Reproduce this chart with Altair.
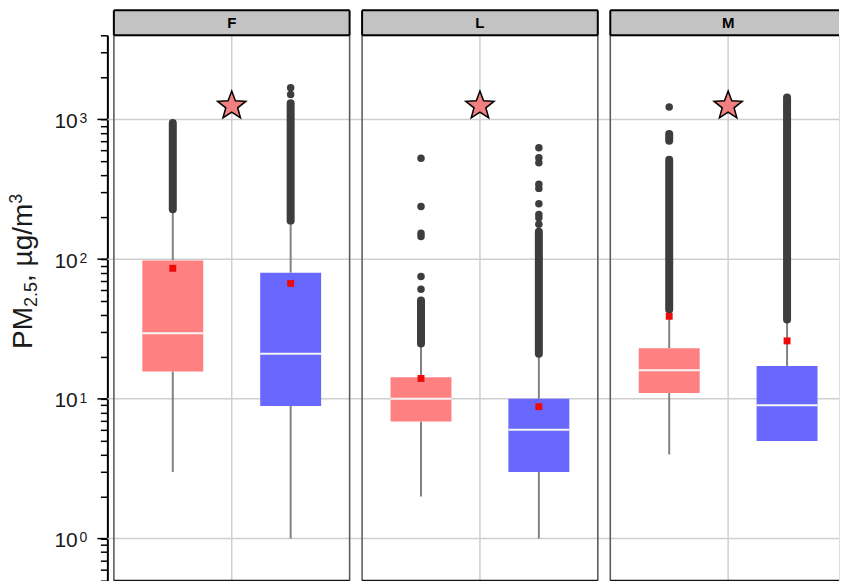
import altair as alt
import pandas as pd

# ---- data -------------------------------------------------------------
panels = ["F", "L", "M"]
series = ["S1", "S2"]

# box summaries, one entry per (panel, series)
box_panel = ["F", "F", "L", "L", "M", "M"]
box_series = ["S1", "S2", "S1", "S2", "S1", "S2"]
q1 = [15.7, 8.9, 6.9, 3.0, 11.0, 5.0]
median = [29.5, 21.0, 10.0, 6.0, 16.0, 9.0]
q3 = [98.0, 80.0, 14.3, 10.0, 23.0, 17.2]
mean = [86.0, 67.0, 14.0, 8.8, 39.0, 26.0]
whisker_lo = [3.0, 1.0, 2.0, 1.0, 4.0, 5.0]
whisker_hi = [214.0, 176.0, 24.0, 20.0, 41.0, 35.0]

# contiguous runs of overlapping outliers (lowest and highest point of each run)
run_panel = ["F", "F", "L", "L", "M", "M", "M"]
run_series = ["S1", "S2", "S1", "S2", "S1", "S1", "S2"]
run_lo = [228, 188, 24.9, 21, 43.6, 705, 37]
run_hi = [942, 1306, 50.6, 157, 515, 785, 1433]

# isolated outliers
out_panel = ["F", "F",
             "L", "L", "L", "L", "L", "L",
             "L", "L", "L", "L", "L", "L", "L", "L", "L",
             "M"]
out_series = ["S2", "S2",
              "S1", "S1", "S1", "S1", "S1", "S1",
              "S2", "S2", "S2", "S2", "S2", "S2", "S2", "S2", "S2",
              "S1"]
out_value = [1510, 1683,
             61, 75, 145, 153, 238, 527,
             178, 198, 209, 249, 321, 343, 490, 532, 627,
             1225]

# significance markers
star_panel = ["F", "L", "M"]
star_value = [1250, 1250, 1250]

# y axis
grid_values = [1, 10, 100, 1000]
label_base = ["10", "10", "10", "10"]
label_exp = ["0", "1", "2", "3"]
tick_values = [0.5, 0.6, 0.7, 0.8, 0.9,
               1, 2, 3, 4, 5, 6, 7, 8, 9,
               10, 20, 30, 40, 50, 60, 70, 80, 90,
               100, 200, 300, 400, 500, 600, 700, 800, 900,
               1000, 2000, 3000, 4000]

box_df = pd.DataFrame({"panel": box_panel, "series": box_series, "q1": q1,
                       "median": median, "q3": q3, "mean": mean,
                       "wlo": whisker_lo, "whi": whisker_hi})
run_df = pd.DataFrame({"panel": run_panel, "series": run_series,
                       "lo": run_lo, "hi": run_hi})
out_df = pd.DataFrame({"panel": out_panel, "series": out_series, "value": out_value})
star_df = pd.DataFrame({"panel": star_panel, "value": star_value})
grid_df = pd.DataFrame({"v": grid_values, "base": label_base, "exp": label_exp})

# ---- styling ------------------------------------------------------------
FONT = "Liberation Sans"
PLOT_H = 546
FULL_W = 236
panel_width = {"F": 236, "L": 236, "M": 229}
BOX_W = 61
colors = alt.Scale(domain=series, range=["#ff8080", "#6868ff"])
GRID = "#cfcfcf"
DOT = "#3d3d3d"
# five-pointed star in the unit square
STAR = ("M0,-1 L0.247,-0.340 L0.951,-0.309 L0.400,0.130 L0.588,0.809 "
        "L0,0.420 L-0.588,0.809 L-0.400,0.130 L-0.951,-0.309 L-0.247,-0.340 Z")


def one_row(name):
    return pd.DataFrame({"panel": [name]})


def make_panel(name, first):
    w = panel_width[name]
    cropped = w < FULL_W
    yscale = alt.Scale(type="log", domain=[0.5, 4000], nice=False)
    xscale = alt.Scale(type="point", domain=series, range=[0, FULL_W], padding=0.5)
    if first:
        yaxis = alt.Axis(values=tick_values, labels=False, ticks=True, tickSize=7,
                         tickWidth=1.5, tickColor="black", domain=True,
                         domainColor="black", domainWidth=2, grid=False,
                         offset=6.5, title=None)
    else:
        yaxis = None

    X = alt.X("series:N", scale=xscale, axis=None)

    def Y(field):
        return alt.Y(f"{field}:Q", scale=yscale, axis=yaxis, title=None)

    bx = box_df[box_df.panel == name]
    rn = run_df[run_df.panel == name]
    ot = out_df[out_df.panel == name]
    st = star_df[star_df.panel == name]

    layers = []
    # horizontal grid lines, running across the gaps between panels
    layers.append(alt.Chart(grid_df).mark_rule(color=GRID, strokeWidth=1.5).encode(
        y=Y("v"), x=alt.value(-6.5), x2=alt.value(w if cropped else w + 6.5)))
    # vertical grid line at the panel centre
    layers.append(alt.Chart(one_row(name)).mark_rule(color=GRID, strokeWidth=1.5).encode(
        x=alt.value(FULL_W / 2), y=alt.value(0), y2=alt.value(PLOT_H)))
    # whiskers
    layers.append(alt.Chart(bx).mark_rule(color="#828282", strokeWidth=2).encode(
        x=X, y=Y("wlo"), y2="q1:Q"))
    layers.append(alt.Chart(bx).mark_rule(color="#828282", strokeWidth=2).encode(
        x=X, y=Y("q3"), y2="whi:Q"))
    # boxes
    layers.append(alt.Chart(bx).mark_bar(size=BOX_W, opacity=1).encode(
        x=X, y=Y("q1"), y2="q3:Q",
        color=alt.Color("series:N", scale=colors, legend=None)))
    # medians
    layers.append(alt.Chart(bx).mark_tick(color="#f6f6f6", size=BOX_W, thickness=2,
                                          opacity=1).encode(x=X, y=Y("median")))
    # outliers: dense runs and isolated points
    layers.append(alt.Chart(rn).mark_rule(color=DOT, strokeWidth=8,
                                          strokeCap="round").encode(
        x=X, y=Y("lo"), y2="hi:Q"))
    if len(ot):
        layers.append(alt.Chart(ot).mark_circle(color=DOT, size=56, opacity=1).encode(
            x=X, y=Y("value")))
    # means
    layers.append(alt.Chart(bx).mark_square(color="#ee0a0a", size=48, opacity=1).encode(
        x=X, y=Y("mean")))
    # significance star
    layers.append(alt.Chart(st).mark_point(shape=STAR, filled=True, fill="#f28080",
                                           stroke="black", strokeWidth=1.5, size=880,
                                           opacity=1).encode(
        x=alt.value(FULL_W / 2), y=Y("value")))

    # panel frame
    layers.append(alt.Chart(one_row(name)).mark_rule(color="#5a5a5a", strokeWidth=1.5).encode(
        x=alt.value(0), y=alt.value(0), y2=alt.value(PLOT_H)))
    if not cropped:
        layers.append(alt.Chart(one_row(name)).mark_rule(color="#5a5a5a", strokeWidth=1.5).encode(
            x=alt.value(w), y=alt.value(0), y2=alt.value(PLOT_H)))
    layers.append(alt.Chart(one_row(name)).mark_rule(color="#111111", strokeWidth=2).encode(
        x=alt.value(0), x2=alt.value(w), y=alt.value(PLOT_H)))

    # strip header
    layers.append(alt.Chart(one_row(name)).mark_rect(fill="#c3c3c3").encode(
        x=alt.value(0), x2=alt.value(w), y=alt.value(-25), y2=alt.value(0)))
    for enc in ({"x": alt.value(0), "x2": alt.value(w), "y": alt.value(-25)},
                {"x": alt.value(0), "x2": alt.value(w), "y": alt.value(0)},
                {"x": alt.value(0), "y": alt.value(-25), "y2": alt.value(0)}):
        layers.append(alt.Chart(one_row(name)).mark_rule(color="black", strokeWidth=2).encode(**enc))
    if not cropped:
        layers.append(alt.Chart(one_row(name)).mark_rule(color="black", strokeWidth=2).encode(
            x=alt.value(w), y=alt.value(-25), y2=alt.value(0)))
    layers.append(alt.Chart(one_row(name)).mark_text(fontWeight="bold", font=FONT,
                                                     baseline="middle", color="black").encode(
        x=alt.value(FULL_W / 2), y=alt.value(-12), text="panel:N",
        size=alt.value(15)))

    if first:
        # longer ticks at the powers of ten
        layers.append(alt.Chart(grid_df).mark_rule(color="black", strokeWidth=1.5).encode(
            y=Y("v"), x=alt.value(-16.5), x2=alt.value(-6.5)))
        # tick labels as 10 with a raised exponent
        layers.append(alt.Chart(grid_df).mark_text(align="right", baseline="alphabetic", dy=8.4,
                                                   fontSize=21, font=FONT, color="#1a1a1a").encode(
            x=alt.value(-36.2), y=Y("v"), text="base:N"))
        layers.append(alt.Chart(grid_df).mark_text(align="left", baseline="alphabetic", dy=3.7,
                                                   fontSize=14, font=FONT, color="#1a1a1a").encode(
            x=alt.value(-34.5), y=Y("v"), text="exp:N"))
        # axis title: PM2.5, µg/m3 with subscript and superscript
        title_parts = [("PM", 28, -81.5, 314.0),
                       ("2.5", 18, -76.5, 272.0),
                       (", \u00b5g/m", 28, -81.5, 247.0),
                       ("3", 18, -92.0, 168.6)]
        for txt, size, xpos, ypos in title_parts:
            layers.append(alt.Chart(one_row(name)).mark_text(
                text=txt, fontSize=size, font=FONT, angle=270, align="left",
                baseline="alphabetic", color="#1a1a1a").encode(
                x=alt.value(xpos), y=alt.value(ypos)))

    return alt.layer(*layers).properties(width=w, height=PLOT_H)


chart = alt.hconcat(
    *[make_panel(p, i == 0) for i, p in enumerate(panels)],
    spacing=12.5, bounds="flush"
).resolve_scale(x="independent", y="independent").properties(
    padding={"left": 7, "top": 8, "right": 0, "bottom": 0},
    background="white"
).configure_view(strokeWidth=0).configure(font=FONT)

chart.save("out.html", embed_options={"renderer": "svg", "actions": False})
